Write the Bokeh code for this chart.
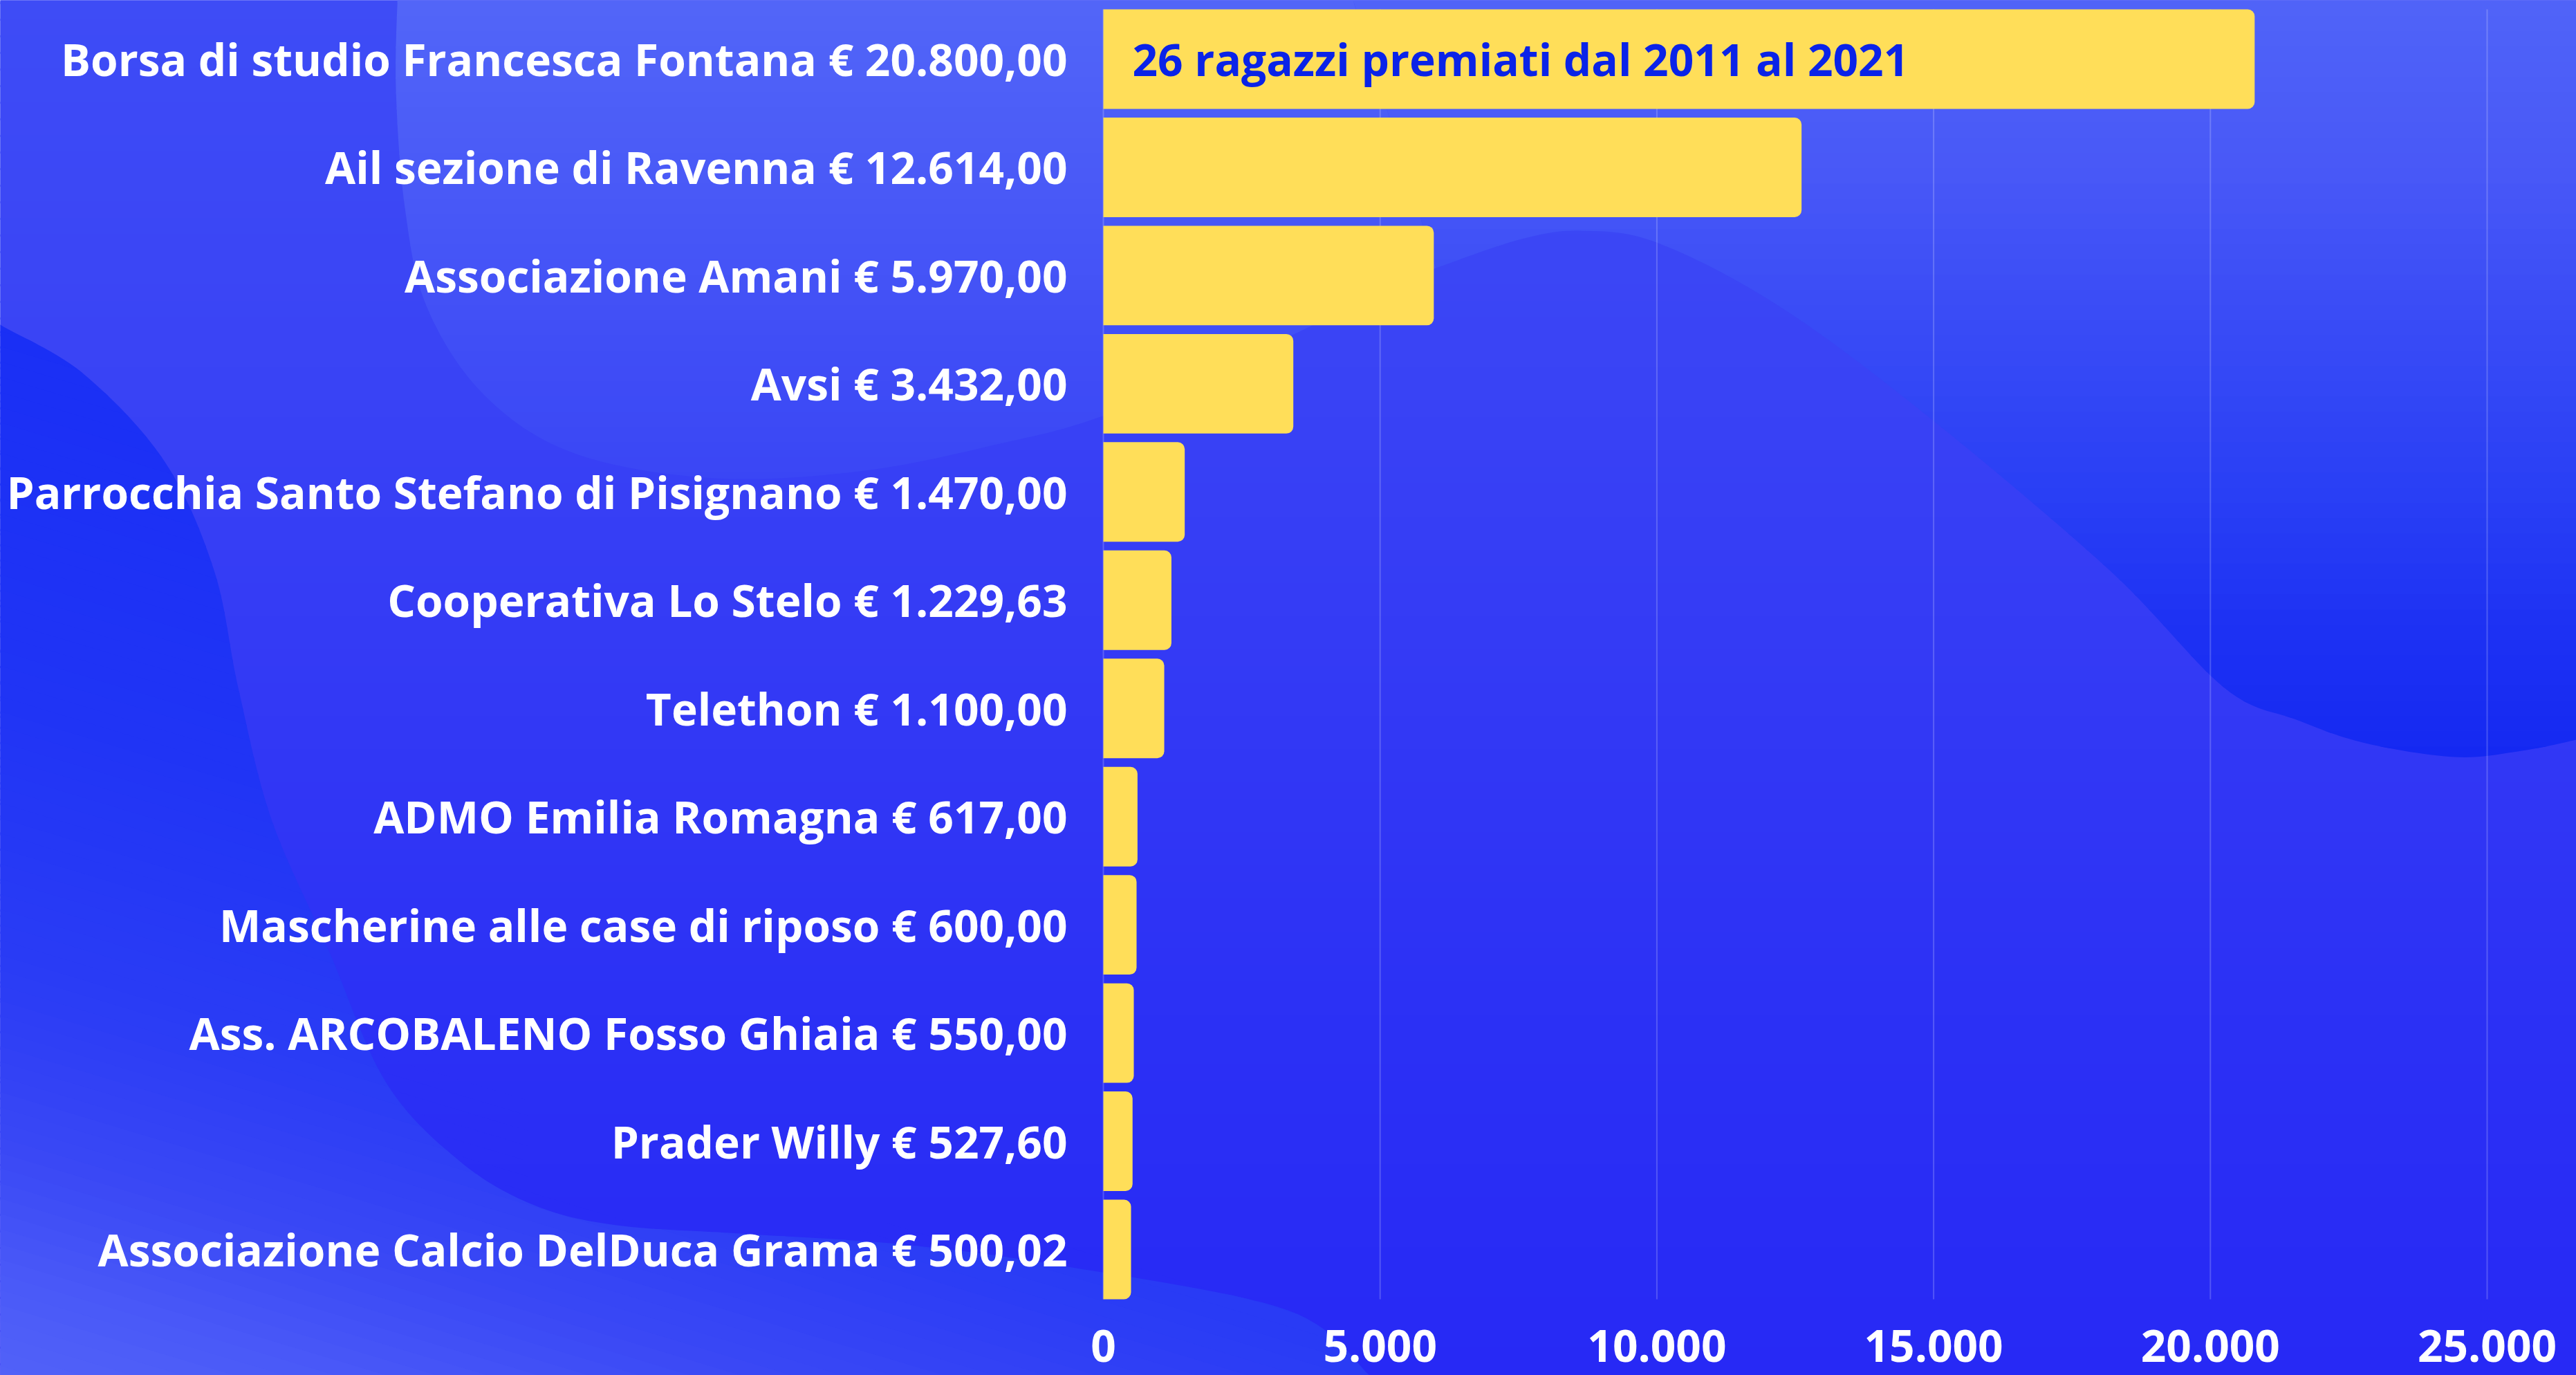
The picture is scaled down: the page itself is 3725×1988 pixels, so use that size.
import numpy as np
from bokeh.plotting import figure
from bokeh.models import Range1d, FixedTicker, PolyAnnotation
from bokeh.core.properties import value
from bokeh.embed import file_html
from bokeh.resources import INLINE

# ---------------- data ----------------
labels = [
    "Borsa di studio Francesca Fontana € 20.800,00",
    "Ail sezione di Ravenna € 12.614,00",
    "Associazione Amani € 5.970,00",
    "Avsi € 3.432,00",
    "Parrocchia Santo Stefano di Pisignano € 1.470,00",
    "Cooperativa Lo Stelo € 1.229,63",
    "Telethon € 1.100,00",
    "ADMO Emilia Romagna € 617,00",
    "Mascherine alle case di riposo € 600,00",
    "Ass. ARCOBALENO Fosso Ghiaia € 550,00",
    "Prader Willy € 527,60",
    "Associazione Calcio DelDuca Grama € 500,02",
]
amounts = [20800, 12614, 5970, 3432, 1470, 1229.63, 1100, 617, 600, 550, 527.60, 500.02]
note_text = "26 ragazzi premiati dal 2011 al 2021"
x_ticks = [0, 5000, 10000, 15000, 20000, 25000]
x_tick_labels = ["0", "5.000", "10.000", "15.000", "20.000", "25.000"]

positions = list(range(len(labels)))

# ---------------- layout (canvas pixels) ----------------
W, H = 3725, 1988
ZERO_PX, TOP_TICK_PX = 1595, 3596   # canvas x of value 0 and of the last tick
BARS_TOP_PX, BARS_BOTTOM_PX = 13, 1878
BAR_FRAC = 0.92
half = BAR_FRAC / 2

sx = (TOP_TICK_PX - ZERO_PX) / x_ticks[-1]
x_start = -ZERO_PX / sx
x_end = (W - ZERO_PX) / sx
y_first = positions[0] - half
y_last = positions[-1] + half
band = (BARS_BOTTOM_PX - BARS_TOP_PX) / (y_last - y_first)
y_top = y_first - BARS_TOP_PX / band
y_bottom = y_first + (H - BARS_TOP_PX) / band

FONT = "Open Sans"
BAR_COLOR = "#FFDE59"

p = figure(width=W, height=H, output_backend="svg", toolbar_location=None, title=None,
           x_range=Range1d(x_start, x_end), y_range=Range1d(y_bottom, y_top),
           min_border_left=0, min_border_right=0, min_border_top=0, min_border_bottom=0)
p.border_fill_color = "#3440f5"
p.background_fill_color = "#3440f5"
p.outline_line_color = None
p.grid.visible = False

# ---------------- decorative background ----------------
def catmull(pts, n=14):
    P = np.asarray(pts, float)
    P = np.vstack([P[0], P, P[-1]])
    out = []
    for i in range(1, len(P) - 2):
        p0, p1, p2, p3 = P[i - 1], P[i], P[i + 1], P[i + 2]
        for t in np.linspace(0, 1, n, endpoint=False):
            t2, t3 = t * t, t * t * t
            q = 0.5 * ((2 * p1) + (-p0 + p2) * t + (2 * p0 - 5 * p1 + 4 * p2 - p3) * t2
                       + (-p0 + 3 * p1 - 3 * p2 + p3) * t3)
            out.append((float(q[0]), float(q[1])))
    out.append((float(P[-2][0]), float(P[-2][1])))
    return out


def clip(poly, n, c, keep_ge):
    out = []
    m = len(poly)
    for i in range(m):
        a, b = poly[i], poly[(i + 1) % m]
        da = n[0] * a[0] + n[1] * a[1] - c
        db = n[0] * b[0] + n[1] * b[1] - c
        if not keep_ge:
            da, db = -da, -db
        if da >= 0:
            out.append(a)
        if (da >= 0) != (db >= 0):
            t = da / (da - db)
            out.append((a[0] + t * (b[0] - a[0]), a[1] + t * (b[1] - a[1])))
    return out


def hex2rgb(h):
    return np.array([int(h[i:i + 2], 16) for i in (1, 3, 5)], float)


def interp(stops, t):
    ts = [s[0] for s in stops]
    cs = [hex2rgb(s[1]) for s in stops]
    if t <= ts[0]:
        c = cs[0]
    elif t >= ts[-1]:
        c = cs[-1]
    else:
        j = max(i for i in range(len(ts)) if ts[i] <= t)
        f = (t - ts[j]) / (ts[j + 1] - ts[j])
        c = cs[j] + f * (cs[j + 1] - cs[j])
    return "#%02x%02x%02x" % tuple(int(round(v)) for v in c)


def gradient_shape(poly, normal, stops, step=24):
    ts = [normal[0] * x + normal[1] * y for x, y in poly]
    k, tmax = min(ts), max(ts)
    while k < tmax:
        band_poly = clip(poly, normal, k - 1.5, True)
        if len(band_poly) >= 3:
            band_poly = clip(band_poly, normal, k + step + 1.5, False)
        if len(band_poly) >= 3:
            p.add_layout(PolyAnnotation(
                xs=[x for x, _ in band_poly], ys=[y for _, y in band_poly],
                xs_units="canvas", ys_units="canvas",
                fill_color=interp(stops, k + step / 2), fill_alpha=1.0,
                line_color=None, level="image"))
        k += step


base_poly = [(-20, -20), (3745, -20), (3745, 2010), (-20, 2010)]
base_stops = [(0, "#3e4cf6"), (500, "#3a44f5"), (1000, "#3339f5"), (1500, "#2b30f5"), (1988, "#2729f5")]

left_curve = [(-10, 455), (0, 469), (119, 539), (237, 666), (309, 824), (344, 994), (392, 1184),
              (475, 1374), (558, 1565), (665, 1679), (772, 1742), (891, 1771), (1069, 1783),
              (1307, 1799), (1544, 1831), (1862, 1894), (1980, 1988), (2000, 2010)]
left_poly = catmull(left_curve) + [(-20, 2010)]
left_stops = [(450, "#1a2ff5"), (1000, "#2034f5"), (1400, "#2a3cf5"), (1500, "#3040f5"),
              (1660, "#3a48f5"), (1850, "#4a5af8"), (2000, "#5262f8")]

top_curve = [(575, -20), (572, 127), (585, 300), (617, 444), (700, 571), (830, 655), (1033, 691),
             (1250, 680), (1450, 640), (1591, 602), (1800, 515), (1950, 445), (2076, 387)]
top_poly = catmull(top_curve) + [(1950, -20)]
top_stops = [(0, "#5266f8"), (300, "#4858f7"), (500, "#404ef6"), (700, "#3a46f5")]

right_curve = [(2076, 387), (2200, 345), (2290, 333), (2400, 352), (2575, 444), (2788, 602),
               (3050, 824), (3216, 994), (3320, 1040), (3420, 1074), (3549, 1094), (3640, 1086),
               (3725, 1069), (3745, 1060)]
right_poly = catmull(right_curve) + [(3745, -20), (1950, -20)]
right_stops = [(0, "#5064f8"), (250, "#4858f7"), (450, "#3a4cf6"), (700, "#2a40f5"),
               (900, "#1e32f3"), (1100, "#1428f2")]

gradient_shape(base_poly, (0, 1), base_stops, 24)
gradient_shape(left_poly, (-0.3, 1), left_stops, 22)
gradient_shape(top_poly, (0, 1), top_stops, 22)
gradient_shape(right_poly, (0, 1), right_stops, 22)

# ---------------- grid lines (bounded to the bar area) ----------------
p.segment(x0=x_ticks, x1=x_ticks, y0=[y_first] * len(x_ticks), y1=[y_last] * len(x_ticks),
          line_color="white", line_alpha=0.2, line_width=2, level="underlay")

# ---------------- bars ----------------
p.hbar(y=positions, left=0, right=amounts, height=BAR_FRAC, fill_color=BAR_COLOR,
       line_color=None, border_radius=(0, 10, 10, 0))

p.text(x=[0], y=[positions[0]], text=[note_text], x_offset=42,
       text_font=value(FONT), text_font_style="bold", text_font_size="64px",
       text_color="#0a23e8", text_baseline="middle", text_align="left")

# ---------------- axes (drawn inside the frame) ----------------
xa, ya = p.xaxis[0], p.yaxis[0]
xa.fixed_location = y_last
ya.fixed_location = 0
xa.ticker = FixedTicker(ticks=x_ticks)
xa.major_label_overrides = {float(t): s for t, s in zip(x_ticks, x_tick_labels)}
ya.ticker = FixedTicker(ticks=positions)
ya.major_label_overrides = {float(i): s for i, s in zip(positions, labels)}

for ax in (xa, ya):
    ax.axis_line_color = None
    ax.major_tick_line_color = None
    ax.minor_tick_line_color = None
    ax.major_tick_in = 0
    ax.major_tick_out = 0
    ax.minor_tick_in = 0
    ax.minor_tick_out = 0
    ax.major_label_text_font = FONT
    ax.major_label_text_font_style = "bold"
    ax.major_label_text_font_size = "64px"
    ax.major_label_text_color = "white"

ya.major_label_standoff = 52
xa.major_label_standoff = 44

open("out.html", "w").write(file_html(p, INLINE))
